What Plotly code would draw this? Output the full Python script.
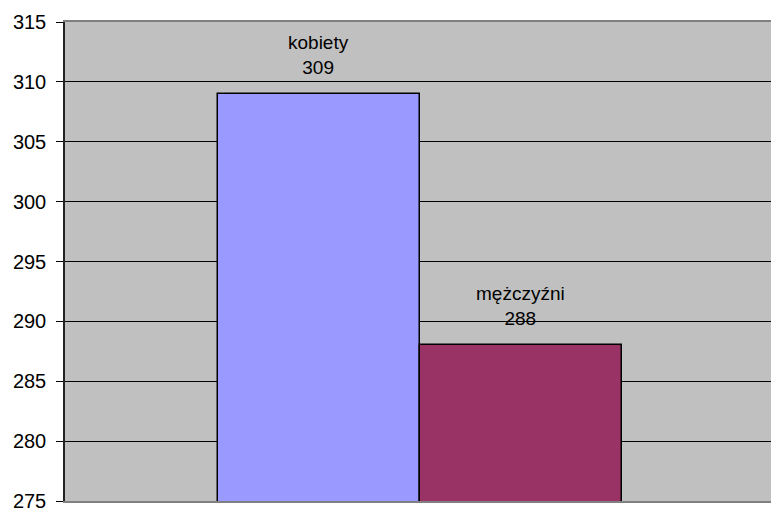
import plotly.graph_objects as go

categories = ["kobiety", "mężczyźni"]
values = [309, 288]
colors = ["#9999FF", "#993366"]
tick_vals = [275, 280, 285, 290, 295, 300, 305, 310, 315]

fig = go.Figure()
fig.add_trace(go.Bar(
    x=categories, y=values,
    marker=dict(color=colors, line=dict(color="black", width=1.5)),
    width=1.0, showlegend=False, hoverinfo="skip",
))

for c, v in zip(categories, values):
    fig.add_annotation(x=c, y=v, text=f"{c}<br>{v}", showarrow=False,
                       yanchor="bottom", yshift=14,
                       font=dict(family="Liberation Sans, Arial", size=19, color="black"))

fig.update_layout(
    width=771, height=512,
    margin=dict(l=65, r=0, t=22, b=8),
    paper_bgcolor="white", plot_bgcolor="#C0C0C0",
    bargap=0,
    font=dict(family="Liberation Sans, Arial", size=20, color="black"),
    xaxis=dict(type="category", range=[-1.257, 2.238], showticklabels=False, ticks="",
               showgrid=False, showline=True, mirror=True, linecolor="#808080", linewidth=2,
               zeroline=False),
    yaxis=dict(range=[275, 315], tickvals=tick_vals, ticks="outside", ticklen=7,
               tickcolor="black", showgrid=True, gridcolor="black", gridwidth=1,
               showline=True, linecolor="#222222", linewidth=1.5, zeroline=False,
               ticklabelstandoff=6, ticklabeloverflow="allow"),
)

fig.write_html("out.html",
               config={"displayModeBar": False},
               post_script="document.body.style.margin='0';document.body.style.overflow='hidden';")
